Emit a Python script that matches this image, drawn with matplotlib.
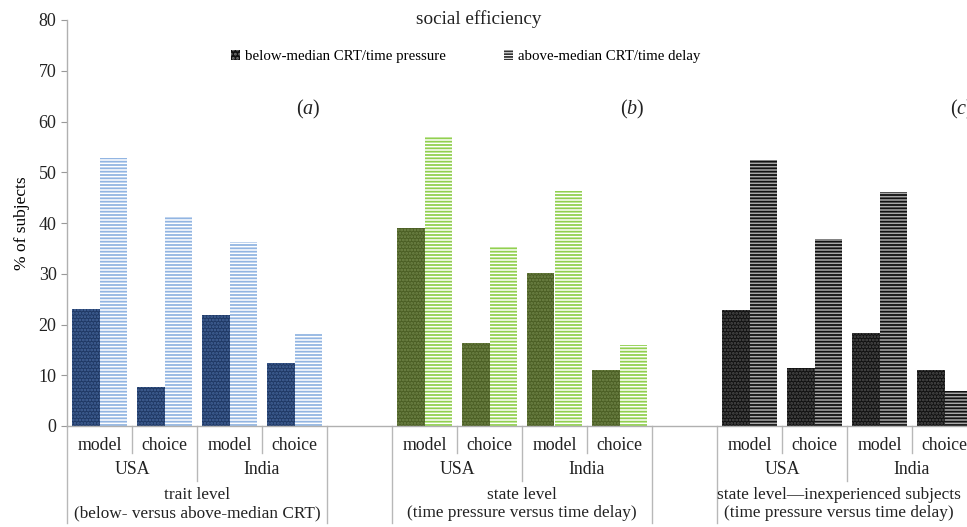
import numpy as np
import matplotlib
matplotlib.use("Agg")
import matplotlib.pyplot as plt
from matplotlib.patches import Patch

plt.rcParams['font.family'] = ['Liberation Serif', 'DejaVu Serif']
plt.rcParams['mathtext.fontset'] = 'custom'
plt.rcParams['mathtext.rm'] = 'Liberation Serif'
plt.rcParams['mathtext.it'] = 'Liberation Serif:italic'
plt.rcParams['hatch.linewidth'] = 1.3

# data (% of subjects)
panels = ["trait level\n(below- versus above-median CRT)",
          "state level\n(time pressure versus time delay)",
          "state level\u2014inexperienced subjects\n(time pressure versus time delay)"]
panel_tags = ["a", "b", "c"]
countries = ["USA", "India"]
measures = ["model", "choice"]
# order: USA model, USA choice, India model, India choice
below = [[23.0, 7.6, 21.8, 12.5],
         [39.0, 16.4, 30.1, 11.1],
         [22.9, 11.4, 18.4, 11.0]]
above = [[52.8, 41.3, 36.3, 18.2],
         [57.2, 35.5, 46.3, 15.9],
         [52.4, 36.8, 46.2, 6.9]]

# styles per panel: (face, hatch colour)
dark_sty = [("#1f3864", "#46669a"), ("#4b5e24", "#72874a"), ("#111111", "#505050")]
light_sty = [("#ffffff", "#92b5e2"), ("#ffffff", "#92d050"), ("#a8a8a8", "#111111")]

fig = plt.figure(figsize=(9.67, 5.27), dpi=100)
ax = fig.add_axes([67/967, 1-426/527, 910/967, 406/527])

w = 0.43
for p in range(3):
    start = p * 5
    xs = start + np.arange(4) + 0.5
    ax.bar(xs - w/2, below[p], w, color=dark_sty[p][0], edgecolor=dark_sty[p][1],
           hatch='.....', linewidth=0)
    ax.bar(xs + w/2, above[p], w, color=light_sty[p][0], edgecolor=light_sty[p][1],
           hatch='-----', linewidth=0)

ax.set_xlim(0, 14)
ax.set_ylim(0, 80)
ax.set_yticks(np.arange(0, 81, 10))
ax.tick_params(axis='y', labelsize=13, length=4, color='#999999', labelcolor='#222222')
ax.tick_params(axis='x', bottom=False, labelbottom=False)
for s in ['top', 'right']:
    ax.spines[s].set_visible(False)
for s in ['left', 'bottom']:
    ax.spines[s].set_color('#b0b0b0')
    ax.spines[s].set_linewidth(1.0)
ax.set_ylabel("% of subjects", fontsize=12.5, labelpad=6)

# hierarchical category axis below the plot
def fy(px):
    return -(px - 426) / 406.0

tr = ax.get_xaxis_transform()
lc = '#b8b8b8'
tag_x = [3.71, 8.69, 13.77]
for p in range(3):
    start = p * 5
    for k in range(4):
        x0 = start + k
        if k == 0:
            y_end = fy(523)
        elif k == 2:
            y_end = fy(481)
        else:
            y_end = fy(453)
        ax.plot([x0, x0], [0, y_end], transform=tr, color=lc, lw=1.0, clip_on=False)
        ax.text(x0 + 0.5, fy(445), measures[k % 2], transform=tr, ha='center',
                va='center', fontsize=12.8, color='#222222')
    ax.plot([start + 4, start + 4], [0, fy(523)], transform=tr, color=lc, lw=1.0,
            clip_on=False)
    for c in range(2):
        ax.text(start + 2*c + 1, fy(470), countries[c], transform=tr, ha='center',
                va='center', fontsize=12.8, color='#222222')
    cx = start + 2 if p < 2 else start + 1.88
    ax.text(cx, fy(504), panels[p], transform=tr, ha='center', va='center',
            fontsize=12.4, color='#222222', linespacing=1.15)
    ax.text(tag_x[p], 62.3, "($\\mathit{%s}$)" % panel_tags[p], ha='center',
            va='center', fontsize=14.5, color='#222222')

fig.text(0.495, 0.964, "social efficiency", ha='center', va='center', fontsize=13.8,
         color='#222222')

handles = [Patch(facecolor='#111111', edgecolor='#777777', hatch='....', linewidth=0),
           Patch(facecolor='white', edgecolor='#333333', hatch='------', linewidth=0)]
fig.legend(handles, ["below-median CRT/time pressure", "above-median CRT/time delay"],
           loc='center', bbox_to_anchor=(0.482, 0.892), ncol=2, frameon=False,
           fontsize=10.7, handlelength=0.6, handleheight=0.6, handletextpad=0.35,
           columnspacing=3.9)

fig.savefig("out.png", dpi=100)
